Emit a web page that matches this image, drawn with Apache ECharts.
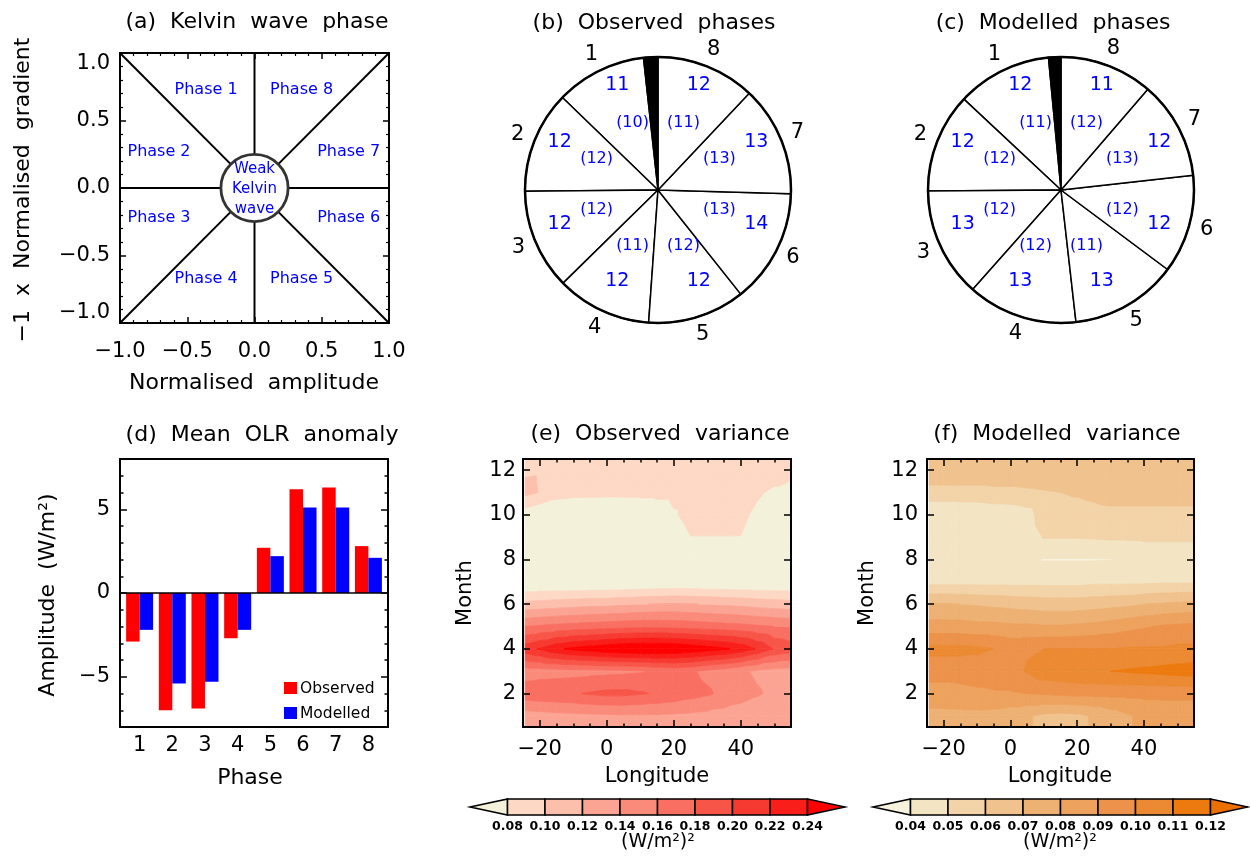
<!DOCTYPE html>
<html>
<head>
<meta charset="utf-8">
<title>Kelvin wave phases and OLR variance</title>
<script src="https://cdn.jsdelivr.net/npm/echarts@6.0.0/dist/echarts.min.js"></script>
<style>
  html, body { margin: 0; padding: 0; background: #fff; }
  #chart { width: 1250px; height: 859px; }
</style>
</head>
<body>
<div id="chart"></div>
<script>
// ---------------- data ----------------
// (a) phase diagram: sector boundaries (degrees) and weak-wave radius
const phaseBoundaryDeg = [0, 45, 90, 135, 180, 225, 270, 315];
const weakRadius = 0.25;
const phaseTitles = ['Phase 1', 'Phase 2', 'Phase 3', 'Phase 4', 'Phase 5', 'Phase 6', 'Phase 7', 'Phase 8'];
const weakTitle = 'Weak\nKelvin\nwave';

// (b), (c) share of days in each phase (%), plus the weak-wave share
const phaseIds = ['1', '2', '3', '4', '5', '6', '7', '8'];
const obsPhasePct = [11.03, 12.39, 12.19, 11.53, 11.81, 13.86, 13.42, 12.03];
const obsWeakPct = 1.74;
const obsPhaseInner = [10, 12, 12, 11, 12, 13, 13, 11];
const modPhasePct = [11.53, 12.08, 13.33, 13.36, 13.00, 11.97, 11.92, 11.31];
const modWeakPct = 1.50;
const modPhaseInner = [11, 12, 12, 12, 11, 12, 13, 12];

// (d) mean OLR anomaly per phase (W/m2)
const phaseNumbers = [1, 2, 3, 4, 5, 6, 7, 8];
const olrObserved = [-2.9, -7.0, -6.9, -2.7, 2.7, 6.2, 6.3, 2.8];
const olrModelled = [-2.2, -5.4, -5.3, -2.2, 2.2, 5.1, 5.1, 2.1];
const barSeriesNames = ['Observed', 'Modelled'];

// (e), (f) variance by month (rows) and longitude (columns)
const months = [1, 2, 3, 4, 5, 6, 7, 8, 9, 10, 11, 12];
const longitudes = [-24.375, -20, -15, -10, -5, 0, 5, 10, 15, 20, 25, 30, 35, 40, 45, 50, 55];
const obsVariance = [
  [0.130, 0.132, 0.134, 0.135, 0.136, 0.137, 0.138, 0.138, 0.138, 0.137, 0.136, 0.134, 0.132, 0.130, 0.128, 0.126, 0.125],
  [0.172, 0.175, 0.176, 0.178, 0.182, 0.185, 0.185, 0.182, 0.178, 0.174, 0.168, 0.163, 0.155, 0.148, 0.142, 0.136, 0.133],
  [0.150, 0.151, 0.152, 0.153, 0.154, 0.155, 0.156, 0.158, 0.163, 0.166, 0.163, 0.155, 0.150, 0.143, 0.137, 0.133, 0.131],
  [0.212, 0.222, 0.236, 0.245, 0.250, 0.256, 0.260, 0.262, 0.262, 0.260, 0.255, 0.249, 0.243, 0.234, 0.218, 0.198, 0.190],
  [0.160, 0.163, 0.166, 0.168, 0.170, 0.172, 0.174, 0.175, 0.175, 0.174, 0.172, 0.170, 0.168, 0.166, 0.163, 0.160, 0.158],
  [0.105, 0.108, 0.110, 0.112, 0.114, 0.115, 0.117, 0.119, 0.121, 0.122, 0.121, 0.119, 0.117, 0.115, 0.112, 0.110, 0.108],
  [0.060, 0.060, 0.060, 0.059, 0.059, 0.059, 0.060, 0.061, 0.062, 0.062, 0.062, 0.061, 0.061, 0.060, 0.060, 0.060, 0.060],
  [0.056, 0.054, 0.052, 0.051, 0.050, 0.050, 0.051, 0.053, 0.055, 0.057, 0.060, 0.062, 0.063, 0.063, 0.062, 0.061, 0.060],
  [0.060, 0.058, 0.056, 0.055, 0.054, 0.054, 0.055, 0.058, 0.062, 0.068, 0.0795, 0.0795, 0.0795, 0.0795, 0.066, 0.062, 0.060],
  [0.069, 0.062, 0.057, 0.052, 0.050, 0.048, 0.050, 0.055, 0.062, 0.077, 0.088, 0.088, 0.088, 0.088, 0.072, 0.065, 0.060],
  [0.106, 0.099, 0.090, 0.088, 0.088, 0.088, 0.088, 0.088, 0.088, 0.088, 0.089, 0.090, 0.090, 0.089, 0.085, 0.073, 0.058],
  [0.097, 0.098, 0.099, 0.099, 0.099, 0.099, 0.099, 0.099, 0.099, 0.099, 0.099, 0.099, 0.099, 0.099, 0.099, 0.099, 0.099]
];
const modVariance = [
  [0.077, 0.077, 0.077, 0.077, 0.076, 0.074, 0.071, 0.068, 0.067, 0.068, 0.071, 0.075, 0.079, 0.082, 0.083, 0.083, 0.083],
  [0.086, 0.086, 0.087, 0.088, 0.089, 0.089, 0.090, 0.091, 0.092, 0.093, 0.093, 0.093, 0.093, 0.093, 0.093, 0.093, 0.093],
  [0.094, 0.094, 0.094, 0.095, 0.095, 0.096, 0.101, 0.106, 0.107, 0.108, 0.109, 0.110, 0.111, 0.112, 0.113, 0.114, 0.115],
  [0.103, 0.103, 0.103, 0.102, 0.100, 0.097, 0.099, 0.100, 0.100, 0.100, 0.100, 0.100, 0.101, 0.101, 0.101, 0.102, 0.102],
  [0.084, 0.084, 0.084, 0.083, 0.083, 0.082, 0.082, 0.081, 0.081, 0.082, 0.083, 0.085, 0.087, 0.089, 0.091, 0.092, 0.093],
  [0.071, 0.071, 0.070, 0.069, 0.068, 0.067, 0.066, 0.065, 0.065, 0.065, 0.066, 0.067, 0.068, 0.070, 0.071, 0.072, 0.073],
  [0.047, 0.047, 0.047, 0.047, 0.047, 0.047, 0.047, 0.047, 0.047, 0.047, 0.048, 0.048, 0.048, 0.048, 0.049, 0.049, 0.049],
  [0.043, 0.043, 0.043, 0.043, 0.043, 0.043, 0.042, 0.0395, 0.0395, 0.0395, 0.0395, 0.0398, 0.042, 0.044, 0.044, 0.044, 0.044],
  [0.044, 0.044, 0.044, 0.044, 0.044, 0.044, 0.045, 0.0505, 0.0505, 0.0505, 0.051, 0.0515, 0.0515, 0.0515, 0.0515, 0.0515, 0.0515],
  [0.041, 0.041, 0.042, 0.042, 0.043, 0.044, 0.046, 0.055, 0.055, 0.055, 0.056, 0.0567, 0.0567, 0.0567, 0.0567, 0.0567, 0.0567],
  [0.056, 0.056, 0.056, 0.056, 0.057, 0.057, 0.058, 0.059, 0.060, 0.0613, 0.063, 0.065, 0.065, 0.065, 0.065, 0.065, 0.065],
  [0.068, 0.068, 0.068, 0.068, 0.068, 0.068, 0.068, 0.068, 0.069, 0.069, 0.069, 0.069, 0.069, 0.069, 0.069, 0.069, 0.069]
];
const obsLevels = [0.08, 0.10, 0.12, 0.14, 0.16, 0.18, 0.20, 0.22, 0.24];
const modLevels = [0.04, 0.05, 0.06, 0.07, 0.08, 0.09, 0.10, 0.11, 0.12];
const obsColors = ['#f3f1da', '#fdd9c5', '#fcbfac', '#fba493', '#fa8b7b', '#f96f62', '#f85549', '#f73a31', '#f91e19', '#ff0000'];
const modColors = ['#f6f2de', '#f3e4c4', '#f3d3a8', '#f0c28d', '#eeb174', '#eda25e', '#ec924a', '#eb8a32', '#ec7a0e', '#ec7000'];

// ---------------- layout & style ----------------
const FONT = '"DejaVu Sans", "Liberation Sans", sans-serif';
const BLACK = '#000';
const BLUE = '#0000ff';
const BAR_COLORS = ['#ff0000', '#0000ff'];
const PIE_R = 133;
const PIE_B = [658, 190];
const PIE_C = [1061, 190];
// text anchors (data units) for the phase names in panel (a)
const phaseTextAnchor = [[-0.36, 0.73], [-0.71, 0.27], [-0.71, -0.22], [-0.36, -0.67],
                         [0.35, -0.67], [0.70, -0.22], [0.70, 0.27], [0.35, 0.73]];

const signed = (s, v) => (v < 0 ? '\u2212' : '') + s;
const fmt1 = v => signed(Math.abs(v).toFixed(1), v);
const fmtInt = v => signed(String(Math.abs(Math.round(v))), v);

function ticks(len, values) {
  const t = { show: true, inside: true, length: len, lineStyle: { color: BLACK, width: 1.5 } };
  if (values) t.customValues = values;
  return t;
}
function labels(margin, formatter, values, extra) {
  const l = Object.assign({ show: true, margin, formatter, color: BLACK, fontFamily: FONT, fontSize: 21 }, extra || {});
  if (values) l.customValues = values;
  return l;
}
function axis(gridIndex, position, min, max, extra) {
  return Object.assign({
    type: 'value', gridIndex, position, min, max, z: 10, offset: 0,
    axisLine: { show: true, onZero: false, lineStyle: { color: BLACK, width: 2 } },
    axisTick: { show: false }, axisLabel: { show: false },
    splitLine: { show: false }, minorSplitLine: { show: false }
  }, extra || {});
}
const noLine = { show: false, onZero: false };
const minor = (n) => ({ show: true, splitNumber: n, length: 3, lineStyle: { color: BLACK, width: 1.2 } });

function text(x, y, str, size, opts) {
  opts = opts || {};
  return {
    type: 'text', x, y, rotation: opts.rotate ? Math.PI / 2 : 0, silent: true, z: 30,
    style: {
      text: str, fill: opts.color || BLACK,
      font: (opts.bold ? 'bold ' : '') + size + 'px ' + FONT,
      textAlign: opts.align || 'center', textVerticalAlign: 'middle', lineHeight: opts.lineHeight
    }
  };
}

// ---------------- contour fill ----------------
function clipPoly(poly, level, keepAbove) {
  if (!isFinite(level)) return poly;
  const inside = p => keepAbove ? p.v >= level : p.v < level;
  const out = [];
  for (let n = 0; n < poly.length; n++) {
    const a = poly[n], b = poly[(n + 1) % poly.length];
    const ia = inside(a), ib = inside(b);
    if (ia) out.push(a);
    if (ia !== ib) {
      const t = (level - a.v) / (b.v - a.v);
      out.push({ x: a.x + t * (b.x - a.x), y: a.y + t * (b.y - a.y), v: level });
    }
  }
  return out;
}
function contourSeries(xAxisIndex, yAxisIndex, field, levels, colors) {
  // half-month padding rows so the fill reaches the frame
  const rowY = [months[0] - 0.5].concat(months, [months[months.length - 1] + 0.5]);
  const rows = [field[0]].concat(field, [field[field.length - 1]]);
  const bounds = [-Infinity].concat(levels, [Infinity]);
  const cells = [];
  for (let j = 0; j < rowY.length - 1; j++)
    for (let i = 0; i < longitudes.length - 1; i++) cells.push([i, j]);
  return {
    type: 'custom', xAxisIndex, yAxisIndex, silent: true, clip: true, z: 1,
    data: cells,
    renderItem(params, api) {
      const i = api.value(0), j = api.value(1);
      const node = (a, b) => ({ x: longitudes[a], y: rowY[b], v: rows[b][a] });
      const p00 = node(i, j), p10 = node(i + 1, j), p11 = node(i + 1, j + 1), p01 = node(i, j + 1);
      const children = [];
      [[p00, p10, p11], [p00, p11, p01]].forEach(tri => {
        for (let k = 0; k < colors.length; k++) {
          const poly = clipPoly(clipPoly(tri, bounds[k], true), bounds[k + 1], false);
          if (poly.length >= 3) {
            children.push({
              type: 'polygon',
              shape: { points: poly.map(p => api.coord([p.x, p.y])) },
              style: { fill: colors[k], stroke: colors[k], lineWidth: 0.8 }
            });
          }
        }
      });
      return { type: 'group', children };
    }
  };
}
function colorbarSeries(xAxisIndex, yAxisIndex, levels, colors) {
  const step = levels[1] - levels[0];
  const edges = [levels[0] - step].concat(levels, [levels[levels.length - 1] + step]);
  const last = colors.length - 1;
  return {
    type: 'custom', xAxisIndex, yAxisIndex, silent: true, z: 3,
    data: colors.map((c, k) => [edges[k], edges[k + 1], k]),
    renderItem(params, api) {
      const lo = api.value(0), hi = api.value(1), k = api.value(2);
      let pts;
      if (k === 0) pts = [api.coord([lo, 0.5]), api.coord([hi, 1]), api.coord([hi, 0])];
      else if (k === last) pts = [api.coord([lo, 1]), api.coord([hi, 0.5]), api.coord([lo, 0])];
      else pts = [api.coord([lo, 1]), api.coord([hi, 1]), api.coord([hi, 0]), api.coord([lo, 0])];
      return { type: 'polygon', shape: { points: pts }, style: { fill: colors[k], stroke: BLACK, lineWidth: 1.5 } };
    }
  };
}

// ---------------- phase pies ----------------
function phasePies(center, pct, weak) {
  const data = pct.map((v, k) => ({ name: phaseIds[k], value: v, itemStyle: { color: '#fff' } }));
  data.push({ name: 'weak', value: weak, itemStyle: { color: BLACK }, label: { show: false } });
  const common = {
    type: 'pie', center, clockwise: false, startAngle: 90 + weak * 3.6,
    silent: true, animation: false, emphasis: { disabled: true }, labelLine: { show: false }, avoidLabelOverlap: false
  };
  return [
    Object.assign({}, common, {
      radius: [0, PIE_R], data, label: { show: false },
      itemStyle: { borderColor: BLACK, borderWidth: 1.5 }
    }),
    Object.assign({}, common, {
      radius: [PIE_R, PIE_R + 30],
      data: data.map(d => Object.assign({}, d, { itemStyle: { color: 'rgba(0,0,0,0)' } })),
      itemStyle: { borderWidth: 0 },
      label: { show: true, position: 'inside', formatter: '{b}', color: BLACK, fontFamily: FONT, fontSize: 21 }
    })
  ];
}
function pieTexts(center, pct, inner) {
  const out = [];
  pct.forEach((v, k) => {
    const a = (22.5 + 45 * k) * Math.PI / 180;
    const s = Math.sin(a), c = Math.cos(a);
    out.push(text(center[0] - 0.8 * PIE_R * s, center[1] - 0.8 * PIE_R * c - 7, String(Math.round(v)), 19, { color: BLUE }));
    out.push(text(center[0] - 0.5 * PIE_R * s, center[1] - 0.5 * PIE_R * c - 6, '(' + inner[k] + ')', 16, { color: BLUE }));
  });
  out.push({ type: 'circle', silent: true, z: 25, shape: { cx: center[0], cy: center[1], r: PIE_R },
             style: { fill: 'none', stroke: BLACK, lineWidth: 2.5 } });
  return out;
}

// legend key for panel (d)
function barKey(left, top) {
  const out = [];
  barSeriesNames.forEach((name, k) => {
    const y = top + k * 25;
    out.push({ type: 'rect', silent: true, z: 30, shape: { x: left, y, width: 13, height: 12 },
               style: { fill: BAR_COLORS[k] } });
    out.push(text(left + 16, y + 6.5, name, 15.5, { align: 'left' }));
  });
  return out;
}

// ---------------- options ----------------
const grids = [
  { left: 120, top: 53, width: 269, height: 270 },   // (a)
  { left: 120, top: 459, width: 268, height: 268 },  // (d)
  { left: 523, top: 459, width: 268, height: 268 },  // (e)
  { left: 927, top: 459, width: 267, height: 268 },  // (f)
  { left: 470, top: 799, width: 375, height: 16 },   // (e) colour bar
  { left: 873, top: 799, width: 375, height: 16 }    // (f) colour bar
].map(g => Object.assign({ containLabel: false, outerBoundsMode: 'none' }, g));

const obsEdges = [obsLevels[0] - 0.02, obsLevels[obsLevels.length - 1] + 0.02];
const modEdges = [modLevels[0] - 0.01, modLevels[modLevels.length - 1] + 0.01];
const lonTickMajor = [-20, 0, 20, 40];
const monthTicks = [2, 4, 6, 8, 10, 12];
const cbLabel = () => ({ show: true, margin: 5, formatter: v => v.toFixed(2), color: BLACK,
                         fontFamily: FONT, fontSize: 12.5, fontWeight: 'bold' });

const xAxes = [
  // (a)
  axis(0, 'bottom', -1, 1, { interval: 0.5, axisTick: ticks(6), minorTick: minor(5), axisLabel: labels(18, fmt1) }),
  axis(0, 'top', -1, 1, { interval: 0.5, axisTick: ticks(6), minorTick: minor(5) }),
  // (d)
  axis(1, 'bottom', 0.4, 8.6, { axisLabel: labels(8, v => String(v), phaseNumbers) }),
  axis(1, 'top', 0.4, 8.6, {}),
  // (e)
  axis(2, 'bottom', -25, 55, { interval: 5, axisTick: ticks(3.5), axisLabel: labels(12, fmtInt, lonTickMajor) }),
  axis(2, 'bottom', -25, 55, { axisLine: noLine, axisTick: ticks(7, lonTickMajor) }),
  axis(2, 'top', -25, 55, { interval: 5, axisTick: ticks(3.5) }),
  axis(2, 'top', -25, 55, { axisLine: noLine, axisTick: ticks(7, lonTickMajor) }),
  // (f)
  axis(3, 'bottom', -25, 55, { interval: 5, axisTick: ticks(3.5), axisLabel: labels(12, fmtInt, lonTickMajor) }),
  axis(3, 'bottom', -25, 55, { axisLine: noLine, axisTick: ticks(7, lonTickMajor) }),
  axis(3, 'top', -25, 55, { interval: 5, axisTick: ticks(3.5) }),
  axis(3, 'top', -25, 55, { axisLine: noLine, axisTick: ticks(7, lonTickMajor) }),
  // colour bars
  axis(4, 'bottom', obsEdges[0], obsEdges[1], { axisLine: noLine, axisLabel: Object.assign(cbLabel(), { customValues: obsLevels }) }),
  axis(5, 'bottom', modEdges[0], modEdges[1], { axisLine: noLine, axisLabel: Object.assign(cbLabel(), { customValues: modLevels }) })
];
const yAxes = [
  // (a)
  axis(0, 'left', -1, 1, { interval: 0.5, axisTick: ticks(6), minorTick: minor(5),
    axisLabel: labels(10, fmt1, null, { verticalAlignMinLabel: 'bottom', verticalAlignMaxLabel: 'top' }) }),
  axis(0, 'right', -1, 1, { interval: 0.5, axisTick: ticks(6), minorTick: minor(5) }),
  // (d)
  axis(1, 'left', -8, 8, { interval: 1, axisTick: ticks(3.5), axisLabel: labels(10, fmtInt, [-5, 0, 5]) }),
  axis(1, 'left', -8, 8, { axisLine: noLine, axisTick: ticks(7, [-5, 0, 5]) }),
  axis(1, 'right', -8, 8, { interval: 1, axisTick: ticks(3.5) }),
  axis(1, 'right', -8, 8, { axisLine: noLine, axisTick: ticks(7, [-5, 0, 5]) }),
  // (e)
  axis(2, 'left', 0.5, 12.5, { axisTick: ticks(7, monthTicks), axisLabel: labels(7, v => String(v), monthTicks) }),
  axis(2, 'right', 0.5, 12.5, { axisTick: ticks(7, monthTicks) }),
  // (f)
  axis(3, 'left', 0.5, 12.5, { axisTick: ticks(7, monthTicks), axisLabel: labels(9, v => String(v), monthTicks) }),
  axis(3, 'right', 0.5, 12.5, { axisTick: ticks(7, monthTicks) }),
  // colour bars
  axis(4, 'left', 0, 1, { show: false }),
  axis(5, 'left', 0, 1, { show: false })
];

const series = [
  // (a) sector boundaries, drawn from the weak-wave circle out to the frame
  {
    type: 'custom', xAxisIndex: 0, yAxisIndex: 0, silent: true, z: 2,
    data: phaseBoundaryDeg.map(d => [d]),
    renderItem(params, api) {
      const t = api.value(0) * Math.PI / 180;
      const c = Math.cos(t), s = Math.sin(t);
      const reach = 1 / Math.max(Math.abs(c), Math.abs(s));
      const p0 = api.coord([weakRadius * c, weakRadius * s]);
      const p1 = api.coord([reach * c, reach * s]);
      return { type: 'line', shape: { x1: p0[0], y1: p0[1], x2: p1[0], y2: p1[1] },
               style: { stroke: BLACK, lineWidth: 2 } };
    }
  },
  // (a) weak-wave circle and phase names
  {
    type: 'custom', xAxisIndex: 0, yAxisIndex: 0, silent: true, z: 3,
    data: [[0, 0, weakRadius]],
    renderItem(params, api) {
      const c = api.coord([api.value(0), api.value(1)]);
      const r = api.size([api.value(2), 0])[0];
      const children = [{ type: 'circle', shape: { cx: c[0], cy: c[1], r },
                          style: { fill: '#fff', stroke: '#333', lineWidth: 2.8 } },
                        { type: 'text', style: { text: weakTitle, x: c[0], y: c[1] + 1, fill: BLUE,
                          font: '15px ' + FONT, textAlign: 'center', textVerticalAlign: 'middle', lineHeight: 20 } }];
      phaseTitles.forEach((name, k) => {
        const p = api.coord(phaseTextAnchor[k]);
        children.push({ type: 'text', style: { text: name, x: p[0], y: p[1], fill: BLUE,
          font: '16px ' + FONT, textAlign: 'center', textVerticalAlign: 'middle' } });
      });
      return { type: 'group', children };
    }
  },
  // (b), (c)
  ...phasePies(PIE_B, obsPhasePct, obsWeakPct),
  ...phasePies(PIE_C, modPhasePct, modWeakPct),
  // (d)
  {
    type: 'bar', name: barSeriesNames[0], xAxisIndex: 2, yAxisIndex: 2, barWidth: 13.5, barGap: '0%',
    itemStyle: { color: BAR_COLORS[0] }, silent: true, z: 3,
    data: phaseNumbers.map((p, i) => [p, olrObserved[i]]),
    markLine: { silent: true, symbol: 'none', label: { show: false }, animation: false,
                lineStyle: { color: BLACK, width: 1.5, type: 'solid' }, data: [{ yAxis: 0 }] }
  },
  {
    type: 'bar', name: barSeriesNames[1], xAxisIndex: 2, yAxisIndex: 2, barWidth: 13.5, barGap: '0%',
    itemStyle: { color: BAR_COLORS[1] }, silent: true, z: 3,
    data: phaseNumbers.map((p, i) => [p, olrModelled[i]])
  },
  // (e), (f)
  contourSeries(4, 6, obsVariance, obsLevels, obsColors),
  contourSeries(8, 8, modVariance, modLevels, modColors),
  colorbarSeries(12, 10, obsLevels, obsColors),
  colorbarSeries(13, 11, modLevels, modColors)
];

const graphics = [
  text(257, 22, '(a)  Kelvin  wave  phase', 22),
  text(654, 23, '(b)  Observed  phases', 22),
  text(1053, 23, '(c)  Modelled  phases', 22),
  text(262, 435, '(d)  Mean  OLR  anomaly', 22),
  text(660, 434, '(e)  Observed  variance', 22),
  text(1057, 434, '(f)  Modelled  variance', 22),
  text(254, 383, 'Normalised  amplitude', 22),
  text(23, 190, '\u22121  x  Normalised  gradient', 22, { rotate: true }),
  text(48, 595, 'Amplitude  (W/m\u00b2)', 22, { rotate: true }),
  text(250, 778, 'Phase', 22),
  text(466, 593, 'Month', 21, { rotate: true }),
  text(657, 777, 'Longitude', 21),
  text(868, 593, 'Month', 21, { rotate: true }),
  text(1060, 777, 'Longitude', 21),
  text(658, 842, '(W/m\u00b2)\u00b2', 19),
  text(1060, 842, '(W/m\u00b2)\u00b2', 19),
  ...barKey(284, 682),
  ...pieTexts(PIE_B, obsPhasePct, obsPhaseInner),
  ...pieTexts(PIE_C, modPhasePct, modPhaseInner)
];

const chart = echarts.init(document.getElementById('chart'), null, { renderer: 'canvas', width: 1250, height: 859 });
chart.setOption({
  animation: false,
  backgroundColor: '#fff',
  textStyle: { fontFamily: FONT },
  grid: grids,
  xAxis: xAxes,
  yAxis: yAxes,
  series,
  graphic: { elements: graphics }
});
</script>
</body>
</html>
